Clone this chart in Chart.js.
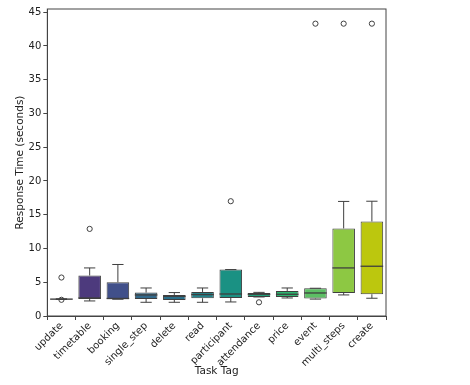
<!DOCTYPE html>
<html>
<head>
<meta charset="utf-8">
<script src="https://cdn.jsdelivr.net/npm/chart.js@4.4.0/dist/chart.umd.min.js"></script>
<style>
  html, body { margin: 0; padding: 0; background: #fff; }
  #wrap { width: 470px; height: 385px; }
</style>
</head>
<body>
<div id="wrap"><canvas id="chart"></canvas></div>
<script>
// Box plot data
const categories = ['update', 'timetable', 'booking', 'single_step', 'delete', 'read',
  'participant', 'attendance', 'price', 'event', 'multi_steps', 'create'];
const whiskerLow  = [2.45, 2.23, 2.48, 2.03, 2.03, 2.03, 2.08, 2.82, 2.67, 2.50, 3.12, 2.63];
const q1Values    = [2.45, 2.52, 2.48, 2.52, 2.37, 2.63, 2.67, 2.82, 2.82, 2.58, 3.41, 3.22];
const medians     = [2.50, 2.67, 2.60, 3.12, 2.92, 3.17, 3.26, 3.22, 3.22, 3.41, 7.12, 7.37];
const q3Values    = [2.55, 6.00, 5.00, 3.47, 3.12, 3.56, 6.88, 3.41, 3.71, 4.11, 12.97, 14.00];
const whiskerHigh = [2.55, 7.12, 7.63, 4.15, 3.47, 4.15, 6.88, 3.50, 4.15, 4.11, 16.97, 17.00];
const outlierTags   = ['update', 'update', 'timetable', 'participant', 'attendance', 'event', 'multi_steps', 'create'];
const outlierValues = [5.7, 2.4, 12.9, 17.0, 2.03, 43.3, 43.3, 43.3];
const yTicks = [0, 5, 10, 15, 20, 25, 30, 35, 40, 45];

const boxColors = ['#4a1d5e', '#4d3a7d', '#41508a', '#336a8c', '#2a6f8a', '#25838a',
  '#1a9183', '#22a07a', '#2db46f', '#5cbf64', '#8dc843', '#bcc70e'];
const edgeColor = '#3f3f3f';
const fontFamily = 'DejaVu Sans';

// whiskers, caps, medians and the axes frame
const boxExtras = {
  id: 'boxExtras',
  afterDatasetsDraw(chart) {
    const ctx = chart.ctx;
    const x = chart.scales.x;
    const y = chart.scales.y;
    const meta = chart.getDatasetMeta(0);
    ctx.save();
    ctx.strokeStyle = edgeColor;
    categories.forEach((cat, i) => {
      const bar = meta.data[i];
      const cx = x.getPixelForValue(i);
      const half = bar.width / 2;
      const capHalf = half / 2;
      const yLo = y.getPixelForValue(whiskerLow[i]);
      const yHi = y.getPixelForValue(whiskerHigh[i]);
      const yQ1 = y.getPixelForValue(q1Values[i]);
      const yQ3 = y.getPixelForValue(q3Values[i]);
      const yMed = y.getPixelForValue(medians[i]);
      ctx.lineWidth = 1;
      ctx.beginPath();
      ctx.moveTo(cx, yQ1); ctx.lineTo(cx, yLo);
      ctx.moveTo(cx, yQ3); ctx.lineTo(cx, yHi);
      ctx.moveTo(cx - capHalf, yLo); ctx.lineTo(cx + capHalf, yLo);
      ctx.moveTo(cx - capHalf, yHi); ctx.lineTo(cx + capHalf, yHi);
      ctx.stroke();
      ctx.lineWidth = 1.3;
      ctx.beginPath();
      ctx.moveTo(cx - half, yMed); ctx.lineTo(cx + half, yMed);
      ctx.stroke();
    });
    const a = chart.chartArea;
    ctx.strokeStyle = '#444';
    ctx.lineWidth = 1;
    ctx.strokeRect(a.left, a.top, a.right - a.left, a.bottom - a.top);
    ctx.restore();
  }
};

new Chart(document.getElementById('chart'), {
  type: 'bar',
  data: {
    labels: categories,
    datasets: [
      {
        label: 'IQR',
        data: categories.map((_, i) => [q1Values[i], q3Values[i]]),
        backgroundColor: boxColors,
        borderColor: edgeColor,
        borderWidth: 1,
        borderSkipped: false,
        categoryPercentage: 0.8,
        barPercentage: 1.0,
        order: 2
      },
      {
        type: 'line',
        label: 'Outliers',
        data: outlierTags.map((t, i) => ({ x: t, y: outlierValues[i] })),
        showLine: false,
        pointStyle: 'circle',
        pointRadius: 2.6,
        pointBorderWidth: 1,
        pointBackgroundColor: 'rgba(255,255,255,0)',
        pointBorderColor: edgeColor,
        order: 1
      }
    ]
  },
  options: {
    responsive: true,
    maintainAspectRatio: false,
    animation: false,
    layout: { padding: { left: 14, right: 84, top: 9, bottom: 7 } },
    plugins: {
      legend: { display: false },
      tooltip: { enabled: false }
    },
    scales: {
      x: {
        afterFit: axis => { axis.height = 62; },
        grid: { display: true, drawOnChartArea: false, tickLength: 4, color: '#444' },
        border: { display: true, color: '#444' },
        ticks: {
          color: '#222',
          minRotation: 45,
          maxRotation: 45,
          padding: 0,
          font: { family: fontFamily, size: 10 }
        },
        title: {
          display: true,
          text: 'Task Tag',
          color: '#222',
          padding: { top: 0, bottom: 0 },
          font: { family: fontFamily, size: 10.5 }
        }
      },
      y: {
        min: 0,
        max: 45.47,
        afterBuildTicks: axis => { axis.ticks = yTicks.map(v => ({ value: v })); },
        grid: { display: true, drawOnChartArea: false, tickLength: 4, color: '#444' },
        border: { display: true, color: '#444' },
        ticks: {
          color: '#222',
          padding: 2,
          font: { family: fontFamily, size: 10 }
        },
        title: {
          display: true,
          text: 'Response Time (seconds)',
          color: '#222',
          padding: { top: 0, bottom: 0 },
          font: { family: fontFamily, size: 10.5 }
        }
      }
    }
  },
  plugins: [boxExtras]
});
</script>
</body>
</html>
